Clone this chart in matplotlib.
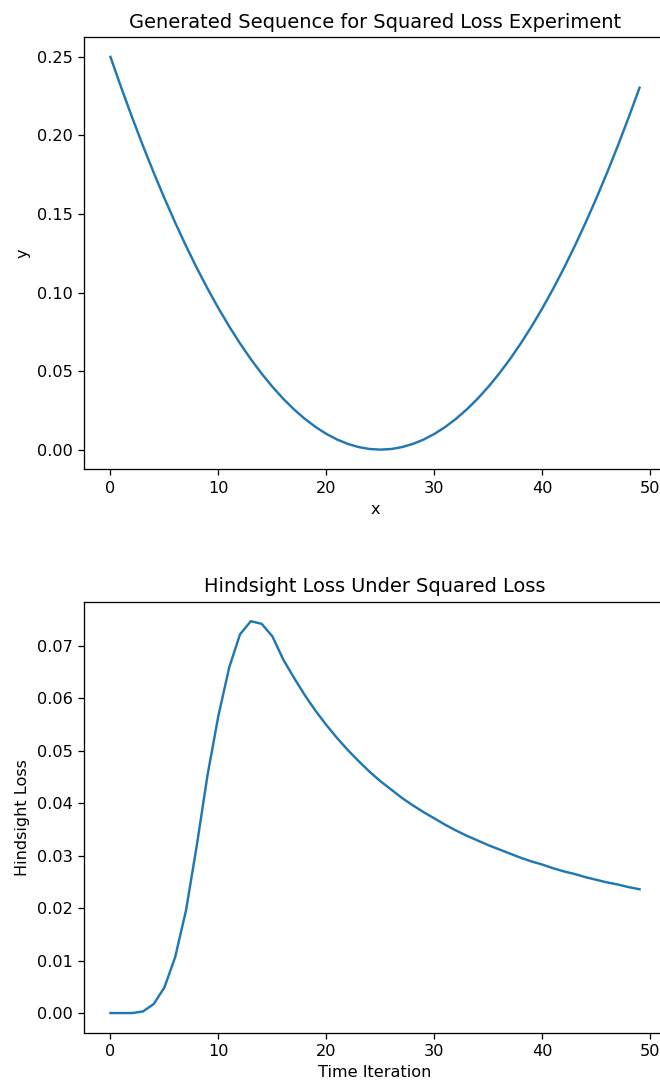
import numpy as np
import matplotlib
matplotlib.use("Agg")
import matplotlib.pyplot as plt

# Generated sequence
seq_x = list(range(50))
seq_y = [
    0.2500, 0.2304, 0.2116, 0.1936, 0.1764, 0.1600, 0.1444, 0.1296, 0.1156, 0.1024,
    0.0900, 0.0784, 0.0676, 0.0576, 0.0484, 0.0400, 0.0324, 0.0256, 0.0196, 0.0144,
    0.0100, 0.0064, 0.0036, 0.0016, 0.0004, 0.0000, 0.0004, 0.0016, 0.0036, 0.0064,
    0.0100, 0.0144, 0.0196, 0.0256, 0.0324, 0.0400, 0.0484, 0.0576, 0.0676, 0.0784,
    0.0900, 0.1024, 0.1156, 0.1296, 0.1444, 0.1600, 0.1764, 0.1936, 0.2116, 0.2304,
]

# Hindsight loss per iteration
iters = list(range(50))
hindsight_loss = [
    0.0000, 0.0000, 0.0000, 0.0003, 0.0017, 0.0049, 0.0107, 0.0196, 0.0320, 0.0455,
    0.0567, 0.0659, 0.0722, 0.0747, 0.0742, 0.0718, 0.0674, 0.0639, 0.0606, 0.0576,
    0.0549, 0.0524, 0.0501, 0.0480, 0.0460, 0.0442, 0.0426, 0.0410, 0.0396, 0.0383,
    0.0371, 0.0359, 0.0348, 0.0338, 0.0329, 0.0320, 0.0312, 0.0304, 0.0296, 0.0289,
    0.0283, 0.0276, 0.0270, 0.0265, 0.0259, 0.0254, 0.0249, 0.0245, 0.0240, 0.0236,
]

DPI = 116
fig = plt.figure(figsize=(660 / DPI, 1083 / DPI), dpi=DPI)

# axes boxes in figure fractions (right edge runs slightly past the canvas, as in the original crop)
ax1 = fig.add_axes([84 / 660, 0.5667, 582 / 660, 0.3989])
ax1.plot(seq_x, seq_y)
ax1.set_title("Generated Sequence for Squared Loss Experiment")
ax1.set_xlabel("x")
ax1.set_ylabel("y")

ax2 = fig.add_axes([84 / 660, 0.0465, 582 / 660, 0.398])
ax2.plot(iters, hindsight_loss)
ax2.set_title("Hindsight Loss Under Squared Loss")
ax2.set_xlabel("Time Iteration")
ax2.set_ylabel("Hindsight Loss")

fig.savefig("out.png", dpi=DPI)
